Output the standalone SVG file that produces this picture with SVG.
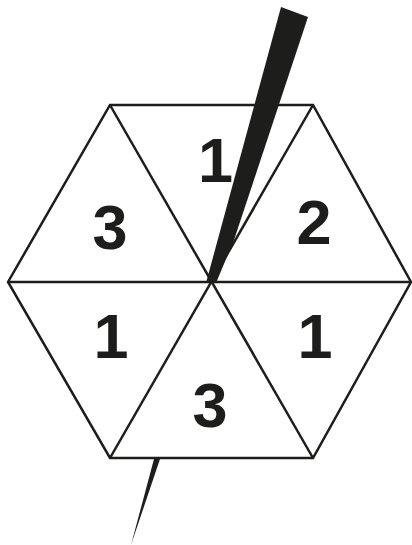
<svg xmlns="http://www.w3.org/2000/svg" width="412" height="545" viewBox="0 0 412 545">
<style>
.ln{fill:none;stroke:#1d1d1b;stroke-width:2.5;stroke-linejoin:miter}
.num{font-family:"Liberation Sans",Arial,sans-serif;font-weight:bold;font-size:63px;fill:#1d1d1b;text-anchor:middle}
.sp{fill:#1d1d1b}
</style>
<rect width="412" height="545" fill="#ffffff"/>
<g id="connectors">
<polygon class="ln" points="8,282 110,105 313,105 411,282 313,458 110,458"/>
<line class="ln" x1="8" y1="282" x2="411" y2="282"/>
<line class="ln" x1="110" y1="105" x2="313" y2="458"/>
<line class="ln" x1="313" y1="105" x2="110" y2="458"/>
</g>
<g id="seg-top"><text class="num" x="215.5" y="182">1</text></g>
<g id="seg-upper-left"><text class="num" x="110" y="249">3</text></g>
<g id="seg-upper-right"><text class="num" x="314" y="244">2</text></g>
<g id="seg-lower-left"><text class="num" x="111" y="358">1</text></g>
<g id="seg-lower-right"><text class="num" x="315" y="358">1</text></g>
<g id="seg-bottom"><text class="num" x="210" y="427">3</text></g>
<g id="spinner">
<polygon class="sp" points="281,7 308,17 234,240 216,283 206,283"/>
<polygon class="sp" points="154,459 160,459 131,545"/>
</g>
</svg>
